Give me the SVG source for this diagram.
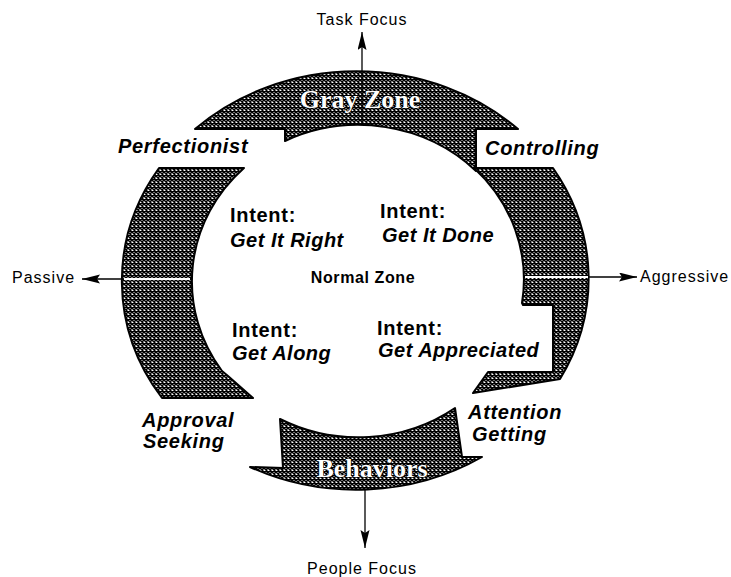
<svg xmlns="http://www.w3.org/2000/svg" width="731" height="577" viewBox="0 0 731 577">
<defs>
<pattern id="hatch" width="4" height="4" patternUnits="userSpaceOnUse">
<rect width="4" height="4" fill="#fff"/>
<path d="M-1,-1 L5,5 M5,-1 L-1,5" stroke="#000" stroke-width="1.5"/>
</pattern>
<marker id="arr" markerUnits="userSpaceOnUse" markerWidth="20" markerHeight="10" refX="18" refY="4.5" orient="auto">
<path d="M0,0 L18,4.5 L0,9 L3,4.5 Z" fill="#000"/>
</marker>
<style>
.seg{fill:url(#hatch);stroke:#000;stroke-width:2;stroke-linejoin:round}
.ax{stroke:#000;stroke-width:1.3;fill:none}
.gap{stroke:#fff;stroke-width:2;fill:none}
.lbl{font-family:"Liberation Sans",Arial,sans-serif;font-size:16px;letter-spacing:1px;fill:#000}
.cat{font-family:"Liberation Sans",Arial,sans-serif;font-size:20px;font-weight:bold;font-style:italic;letter-spacing:0.7px;fill:#000}
.int{font-family:"Liberation Sans",Arial,sans-serif;font-size:20px;font-weight:bold;letter-spacing:0.7px;fill:#000}
.intv{font-family:"Liberation Sans",Arial,sans-serif;font-size:20px;font-weight:bold;font-style:italic;letter-spacing:0.5px;fill:#000}
.zone{font-family:"Liberation Sans",Arial,sans-serif;font-size:16px;font-weight:bold;letter-spacing:0.6px;fill:#000}
.band{font-family:"Liberation Serif","Times New Roman",serif;font-size:26px;font-weight:bold;fill:#fff;stroke:#000;stroke-width:1.2;paint-order:stroke}
</style>
</defs>
<rect width="731" height="577" fill="#fff"/>

<g id="gray-zone">
<path class="seg" d="M195,129 A234,209 0 0 1 518,129 L476,129 L476,171 A166,156 0 0 0 285,141 L285,129 Z"/>
</g>
<g id="controlling-segment">
<path class="seg" d="M474,168 L553,168 A234,209 0 0 1 560,379 L473,393 L488,372 L553,372 L553,305 L523,305 L522,303 A166,156 0 0 0 474,168 Z"/>
</g>
<g id="perfectionist-segment">
<path class="seg" d="M159,168 L244,168 A166,156 0 0 0 222,371 L228,376 L253,398 L162,398 A234,209 0 0 1 159,168 Z"/>
</g>
<g id="behaviors">
<path class="seg" d="M280,419 A166,156 0 0 0 455,408 L462,457 L482,457 A234,209 0 0 1 250,467 L283,468 Z"/>
</g>

<g id="connectors">
<line class="ax" x1="362" y1="125" x2="362" y2="32" marker-end="url(#arr)"/>
<line class="ax" x1="365" y1="490" x2="365" y2="548" marker-end="url(#arr)"/>
<line class="ax" x1="192" y1="279" x2="82" y2="279" marker-end="url(#arr)"/>
<line class="ax" x1="523" y1="277" x2="637" y2="277" marker-end="url(#arr)"/>
<line class="gap" x1="124" y1="279" x2="190" y2="279"/>
<line class="gap" x1="525" y1="277" x2="588" y2="277"/>
</g>

<g id="band-titles">
<text class="band" x="360" y="108" text-anchor="middle">Gray Zone</text>
<text class="band" x="372" y="477" text-anchor="middle">Behaviors</text>
</g>

<g id="axis-labels">
<text class="lbl" x="362" y="25" text-anchor="middle">Task Focus</text>
<text class="lbl" x="362" y="574" text-anchor="middle">People Focus</text>
<text class="lbl" x="12" y="283">Passive</text>
<text class="lbl" x="640" y="282">Aggressive</text>
</g>

<g id="styles">
<text class="cat" x="118" y="153">Perfectionist</text>
<text class="cat" x="485" y="155">Controlling</text>
<text class="cat" x="142" y="427">Approval</text>
<text class="cat" x="143" y="448">Seeking</text>
<text class="cat" x="468" y="419">Attention</text>
<text class="cat" x="472" y="441">Getting</text>
</g>

<g id="normal-zone">
<text class="zone" x="363" y="283" text-anchor="middle">Normal Zone</text>
</g>
<g id="intent-right">
<text class="int" x="230" y="222">Intent:</text>
<text class="intv" x="230" y="247">Get It Right</text>
</g>
<g id="intent-done">
<text class="int" x="380" y="218">Intent:</text>
<text class="intv" x="382" y="242">Get It Done</text>
</g>
<g id="intent-along">
<text class="int" x="232" y="337">Intent:</text>
<text class="intv" x="232" y="360">Get Along</text>
</g>
<g id="intent-appreciated">
<text class="int" x="377" y="335">Intent:</text>
<text class="intv" x="378" y="357">Get Appreciated</text>
</g>
</svg>
